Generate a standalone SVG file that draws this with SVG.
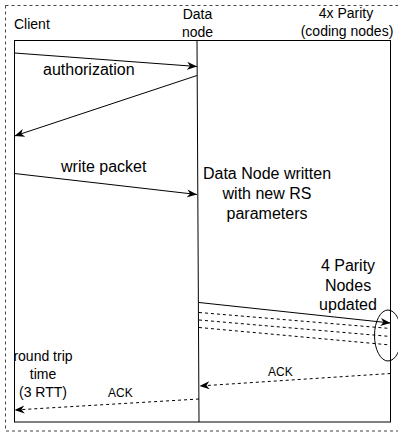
<svg xmlns="http://www.w3.org/2000/svg" width="398" height="435" viewBox="0 0 398 435">
  <defs>
    <style>
      text { font-family: "Liberation Sans", Arial, sans-serif; fill: #000; }
      .t14 { font-size: 14px; }
      .t16 { font-size: 16px; }
      .t12 { font-size: 12px; }
      .mid { text-anchor: middle; }
      .frame { fill: none; stroke: #000; stroke-width: 1; }
      .outer { fill: none; stroke: #444; stroke-width: 1; stroke-dasharray: 3 3; }
      .msg { fill: none; stroke: #000; stroke-width: 1; }
      .dash { stroke-dasharray: 3 3; }
    </style>
    <marker id="arrow" viewBox="0 0 10 10" refX="10" refY="5" markerWidth="10" markerHeight="10" markerUnits="userSpaceOnUse" orient="auto">
      <path d="M0,1 L10,5 L0,9 L3,5 Z" fill="#000"/>
    </marker>
  </defs>

  <!-- dashed outer boundary -->
  <rect class="outer" x="5.5" y="5.5" width="398" height="425.5"/>

  <!-- lifeline frame -->
  <g id="frame">
    <rect class="frame" x="14.5" y="40.5" width="376" height="381.5"/>
    <line class="frame" x1="197" y1="40.5" x2="199" y2="422"/>
  </g>

  <!-- participant headers -->
  <g id="client">
    <text class="t14" x="14" y="29">Client</text>
  </g>
  <g id="data-node">
    <text class="t14 mid" x="197.5" y="19">Data</text>
    <text class="t14 mid" x="197.5" y="37">node</text>
  </g>
  <g id="parity">
    <text class="t14 mid" x="346" y="18">4x Parity</text>
    <text class="t14 mid" x="347" y="36">(coding nodes)</text>
  </g>

  <!-- notes -->
  <g id="data-written">
    <text class="t16 mid" x="267" y="179">Data Node written</text>
    <text class="t16 mid" x="267" y="199">with new RS</text>
    <text class="t16 mid" x="267" y="219">parameters</text>
  </g>
  <g id="parity-updated">
    <text class="t16 mid" x="348" y="271">4 Parity</text>
    <text class="t16 mid" x="348" y="291">Nodes</text>
    <text class="t16 mid" x="348" y="310">updated</text>
  </g>
  <g id="rtt">
    <text class="t14 mid" x="43" y="361">round trip</text>
    <text class="t14 mid" x="43" y="379">time</text>
    <text class="t14 mid" x="43" y="397">(3 RTT)</text>
  </g>
  <g id="parity-group">
    <ellipse class="frame" cx="388" cy="335.5" rx="13.5" ry="25.5"/>
  </g>

  <!-- messages -->
  <g id="connectors">
    <line class="msg" x1="14.5" y1="53" x2="197" y2="66.5" marker-end="url(#arrow)"/>
    <line class="msg" x1="197" y1="75.5" x2="14.5" y2="136" marker-end="url(#arrow)"/>
    <line class="msg" x1="14.5" y1="173.5" x2="197" y2="194.5" marker-end="url(#arrow)"/>
    <line class="msg" x1="199" y1="302.5" x2="390.5" y2="323" marker-end="url(#arrow)"/>
    <line class="msg dash" x1="199" y1="312.5" x2="390.5" y2="328.5"/>
    <line class="msg dash" x1="199" y1="320" x2="390.5" y2="336.5"/>
    <line class="msg dash" x1="199" y1="327.5" x2="390.5" y2="345"/>
    <line class="msg dash" x1="390.5" y1="373.5" x2="199.5" y2="386" marker-end="url(#arrow)"/>
    <line class="msg dash" x1="199" y1="399" x2="14.5" y2="410" marker-end="url(#arrow)"/>
  </g>

  <!-- message labels -->
  <g id="labels">
    <text class="t16" x="43" y="75">authorization</text>
    <text class="t16" x="61" y="172">write packet</text>
    <text class="t12" x="268" y="376">ACK</text>
    <text class="t12" x="108" y="397">ACK</text>
  </g>
</svg>
